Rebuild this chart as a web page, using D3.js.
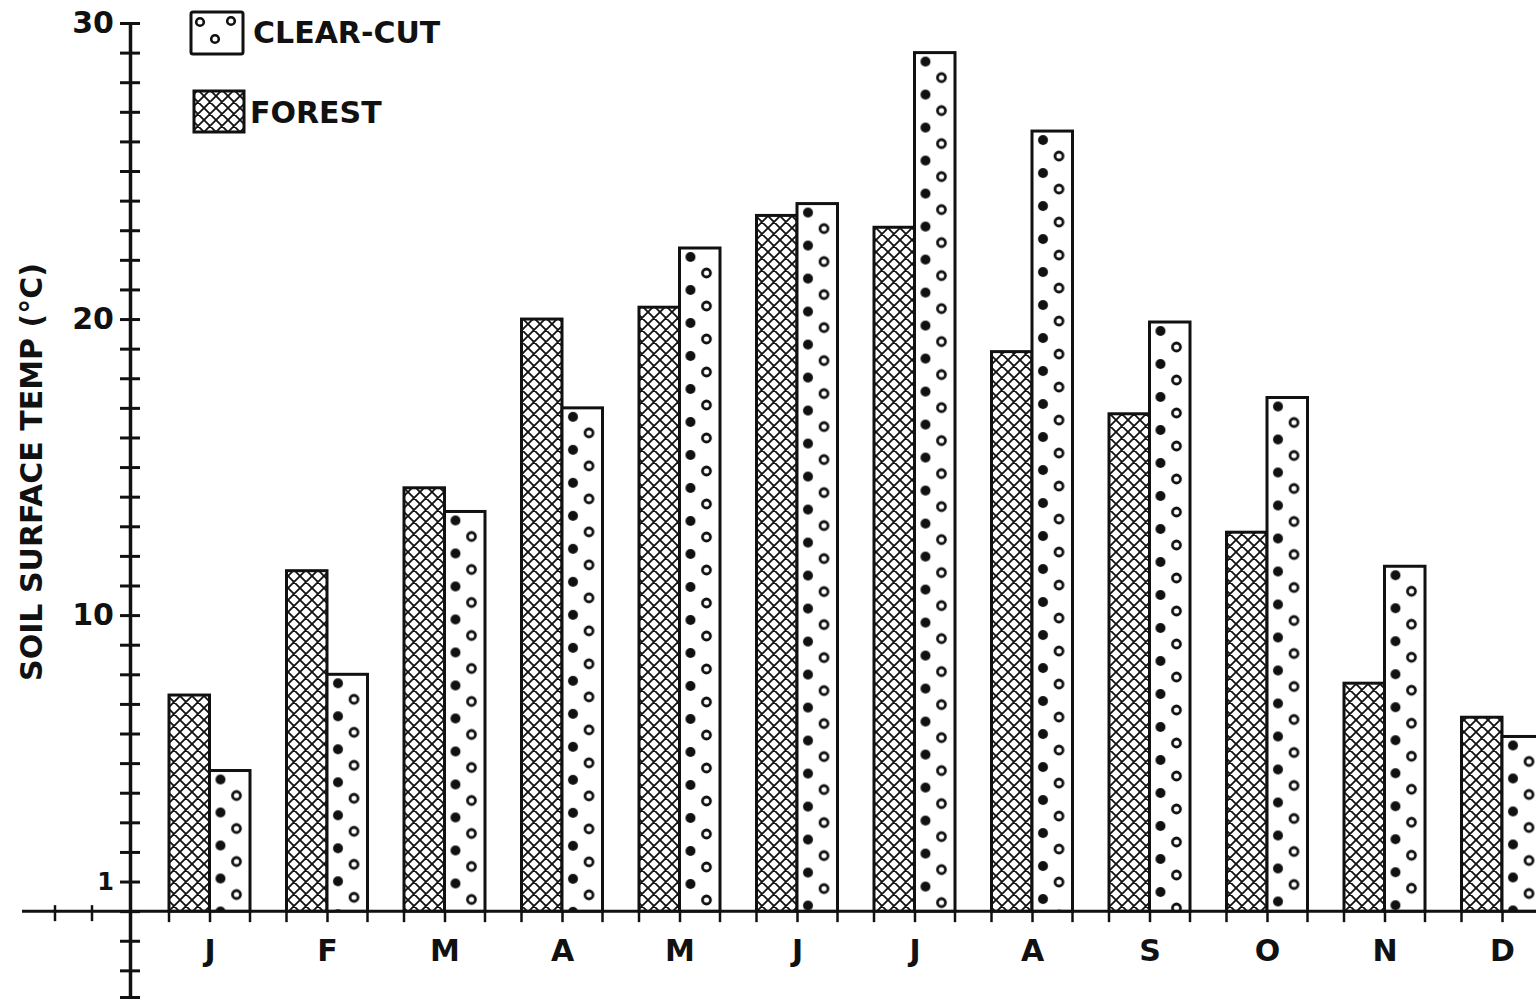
<!DOCTYPE html>
<html>
<head>
<meta charset="utf-8">
<script src="https://cdn.jsdelivr.net/npm/d3@7"></script>
<style>
  body { margin: 0; background: #fff; }
  text { font-family: "DejaVu Sans", sans-serif; font-weight: bold; fill: #111; }
</style>
</head>
<body>
<div id="chart"></div>
<script>
// data (soil surface temp, deg C)
const months = ["J", "F", "M", "A", "M", "J", "J", "A", "S", "O", "N", "D"];
const forest = [7.3, 11.5, 14.3, 20.0, 20.4, 23.5, 23.1, 18.9, 16.8, 12.8, 7.7, 6.55];
const clearcut = [4.75, 8.0, 13.5, 17.0, 22.4, 23.9, 29.0, 26.35, 19.9, 17.35, 11.65, 5.9];
const seriesNames = ["FOREST", "CLEAR-CUT"];
const yLabels = {30: "30", 20: "20", 10: "10", 1: "1"};

const W = 1536, H = 1004;

const svg = d3.select("#chart").append("svg")
    .attr("width", W)
    .attr("height", H);

const defs = svg.append("defs");

// scales
const y = d3.scaleLinear().domain([-2.9, 30]).range([997, 23]);
const x = d3.scalePoint().domain(d3.range(months.length)).range([210, 1502.5]);
const xs = d3.scaleBand().domain(seriesNames).range([-41, 40]);
const bw = xs.bandwidth();
const axisX = 130;

// crosshatch for forest
const hatch = defs.append("pattern")
    .attr("id", "hatch")
    .attr("patternUnits", "userSpaceOnUse")
    .attr("width", 12).attr("height", 12);
hatch.append("rect").attr("width", 12).attr("height", 12).attr("fill", "#fff");
hatch.append("path")
    .attr("d", "M0,0L12,12M0,12L12,0M-3,9L3,15M9,-3L15,3M-3,3L3,-3M9,15L15,9")
    .attr("stroke", "#111").attr("stroke-width", 1.8);

// dotted pattern for clear-cut, one per bar so the dots line up in each bar
const rows = months.map((m, i) => ({i, v: clearcut[i]}));
const dots = defs.selectAll(".dots")
    .data(rows)
    .join("pattern")
    .attr("class", "dots")
    .attr("id", d => "dots" + d.i)
    .attr("patternUnits", "userSpaceOnUse")
    .attr("x", d => x(d.i) + xs("CLEAR-CUT"))
    .attr("y", d => y(d.v))
    .attr("width", bw).attr("height", 33);
dots.append("rect").attr("width", bw).attr("height", 33).attr("fill", "#fff");
dots.append("circle").attr("cx", 11).attr("cy", 9).attr("r", 5).attr("fill", "#111");
dots.append("circle").attr("cx", 27).attr("cy", 25).attr("r", 4)
    .attr("fill", "#fff").attr("stroke", "#111").attr("stroke-width", 2.8);

// x axis line (extends left past the y axis)
svg.append("line")
    .attr("x1", 22).attr("x2", W)
    .attr("y1", y(0)).attr("y2", y(0))
    .attr("stroke", "#111").attr("stroke-width", 3);
svg.selectAll(".ltick")
    .data([axisX - 75, axisX - 38])
    .join("line")
    .attr("x1", d => d).attr("x2", d => d)
    .attr("y1", y(0) - 6).attr("y2", y(0) + 10)
    .attr("stroke", "#111").attr("stroke-width", 2.5);

// bars
const g = svg.append("g");
g.selectAll(".forest")
    .data(forest)
    .join("rect")
    .attr("class", "forest")
    .attr("x", (d, i) => x(i) + xs("FOREST"))
    .attr("y", d => y(d))
    .attr("width", bw)
    .attr("height", d => y(0) - y(d))
    .attr("fill", "url(#hatch)")
    .attr("stroke", "#111").attr("stroke-width", 3);

g.selectAll(".cc")
    .data(clearcut)
    .join("rect")
    .attr("class", "cc")
    .attr("x", (d, i) => x(i) + xs("CLEAR-CUT"))
    .attr("y", d => y(d))
    .attr("width", bw)
    .attr("height", d => y(0) - y(d))
    .attr("fill", (d, i) => `url(#dots${i})`)
    .attr("stroke", "#111").attr("stroke-width", 3);

// ticks under bar edges
const edges = [];
months.forEach((m, i) => {
  edges.push(x(i) + xs("FOREST"), x(i), x(i) + xs("CLEAR-CUT") + bw);
});
svg.selectAll(".btick")
    .data(edges)
    .join("line")
    .attr("x1", d => d).attr("x2", d => d)
    .attr("y1", y(0)).attr("y2", y(0) + 11)
    .attr("stroke", "#111").attr("stroke-width", 2.5);

// month labels
svg.selectAll(".mlab")
    .data(months)
    .join("text")
    .attr("x", (d, i) => x(i))
    .attr("y", 961)
    .attr("text-anchor", "middle")
    .attr("font-size", 30)
    .text(d => d);

// y axis
const yAxis = svg.append("g")
    .attr("transform", `translate(${axisX},0)`)
    .call(d3.axisLeft(y)
        .tickValues(d3.range(-2, 31).concat([-2.9]))
        .tickSizeInner(10)
        .tickSizeOuter(0)
        .tickPadding(6)
        .tickFormat(d => yLabels[d] || ""));
yAxis.select(".domain").attr("stroke", "#111").attr("stroke-width", 3.5);
yAxis.selectAll(".tick line")
    .attr("x1", 10).attr("x2", -10)
    .attr("stroke", "#111").attr("stroke-width", 3);
yAxis.selectAll(".tick text")
    .attr("font-size", d => d === 1 ? 24 : 30)
    .attr("font-family", "'DejaVu Sans', sans-serif")
    .attr("font-weight", d => d === 1 ? "normal" : "bold")
    .attr("fill", "#111");

// y title
svg.append("text")
    .attr("transform", "translate(42,472) rotate(-90)")
    .attr("text-anchor", "middle")
    .attr("font-size", 30)
    .text("SOIL SURFACE TEMP (°C)");

// legend
const legend = svg.append("g");
legend.append("rect")
    .attr("x", 191).attr("y", 12).attr("width", 52).attr("height", 42)
    .attr("fill", "#fff").attr("stroke", "#111").attr("stroke-width", 3).attr("rx", 2);
legend.selectAll(".ldot")
    .data([[200, 22], [231, 21], [215, 39]])
    .join("circle")
    .attr("cx", d => d[0]).attr("cy", d => d[1]).attr("r", 3.8)
    .attr("fill", "#fff").attr("stroke", "#111").attr("stroke-width", 2.6);
legend.append("rect")
    .attr("x", 194).attr("y", 91).attr("width", 50).attr("height", 41)
    .attr("fill", "url(#hatch)").attr("stroke", "#111").attr("stroke-width", 3);
legend.append("text")
    .attr("x", 253).attr("y", 43)
    .attr("font-size", 30)
    .text("CLEAR-CUT");
legend.append("text")
    .attr("x", 250).attr("y", 123)
    .attr("font-size", 30)
    .text("FOREST");
</script>
</body>
</html>
